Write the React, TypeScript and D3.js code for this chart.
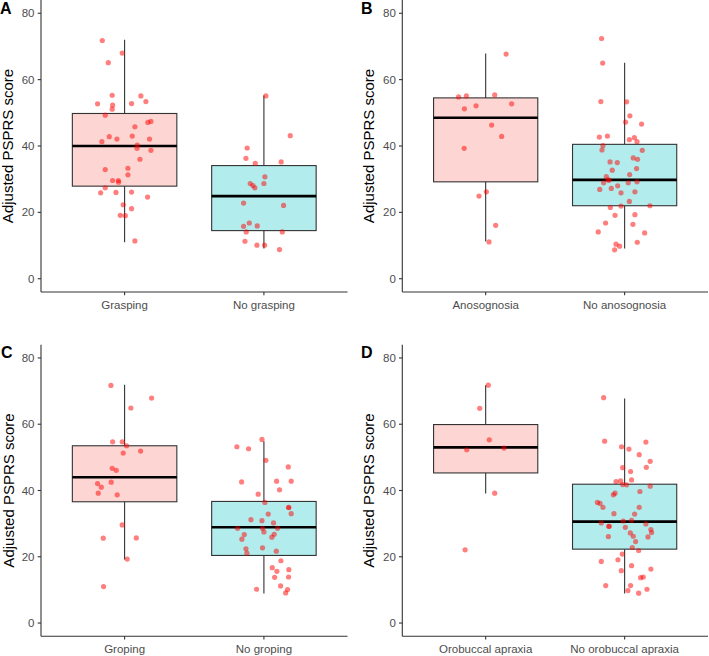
import * as d3 from 'd3';
import React from 'react';

// jittered points: [x offset in category units, adjusted PSPRS score]
const graspingPts: [number, number][] = [
  [-0.16, 71.8], [-0.017, 68.0], [-0.117, 65.1], [-0.194, 52.7], [-0.089, 55.3], [-0.086, 52.3],
  [-0.089, 51.1], [-0.139, 49.3], [0.05, 52.8], [0.117, 55.1], [0.153, 53.4], [0.167, 47.1],
  [0.189, 47.4], [0.074, 45.8], [-0.163, 41.3], [-0.11, 42.8], [-0.055, 42.1], [0.055, 43.0],
  [0.179, 42.1], [0.091, 40.3], [0.089, 39.3], [0.189, 38.7], [0.11, 36.0], [-0.139, 32.9],
  [0.024, 33.3], [0.024, 31.3], [-0.086, 29.6], [-0.045, 29.6], [-0.043, 29.1], [-0.172, 25.9],
  [-0.139, 27.4], [-0.062, 26.0], [0.05, 26.1], [0.165, 24.6], [-0.01, 22.3], [0.05, 21.1],
  [-0.031, 19.1], [0.005, 19.0], [0.074, 11.4],
];
const noGraspingPts: [number, number][] = [
  [0.014, 55.1], [0.189, 43.1], [-0.12, 39.4], [-0.129, 36.3], [-0.062, 34.8], [0.124, 35.2],
  [0.007, 30.7], [-0.098, 28.7], [-0.079, 28.1], [-0.065, 27.4], [0, 28.7], [-0.146, 22.8],
  [0.141, 22.1], [-0.105, 16.8], [-0.146, 15.8], [-0.048, 15.9], [-0.127, 14.1], [0.132, 14.1],
  [-0.136, 11.3], [-0.05, 10.1], [0.005, 10.1], [0.112, 8.8],
];
const anosognosiaPts: [number, number][] = [
  [0.147, 67.7], [-0.195, 54.8], [-0.139, 55.1], [0.065, 55.4], [-0.069, 52.1], [-0.153, 51.2],
  [0.187, 52.7], [0.043, 46.3], [0.115, 42.9], [-0.155, 39.3], [0.005, 26.2], [-0.048, 24.9],
  [0.072, 16.1], [0.024, 11.1],
];
const noAnosognosiaPts: [number, number][] = [
  [-0.166, 72.4], [-0.158, 65.0], [-0.171, 53.4], [0.014, 53.3], [0.038, 49.1], [0.007, 47.2],
  [0.122, 46.6], [-0.182, 42.7], [-0.124, 43.0], [0.034, 41.9], [0.07, 42.5], [0.089, 41.3],
  [-0.156, 40.1], [-0.163, 38.8], [0.127, 38.7], [0.062, 36.4], [0.093, 36.0], [-0.105, 35.2],
  [-0.053, 35.0], [-0.089, 32.7], [0.086, 33.2], [0.036, 31.4], [-0.132, 30.8], [-0.12, 29.8],
  [-0.112, 29.7], [-0.151, 28.9], [0.089, 29.2], [0.026, 28.9], [-0.05, 28.0], [-0.179, 26.9],
  [-0.096, 27.2], [-0.026, 25.9], [0.074, 26.2], [0.034, 23.3], [0.182, 22.0], [-0.103, 21.5],
  [-0.026, 21.9], [-0.069, 19.1], [0.074, 19.3], [-0.137, 16.8], [0.06, 16.4], [-0.19, 14.1],
  [0.144, 13.8], [-0.062, 10.4], [-0.036, 9.8], [0.091, 11.0], [-0.072, 8.7],
];
const gropingPts: [number, number][] = [
  [-0.098, 71.7], [0.194, 67.9], [0.045, 64.9], [-0.086, 54.7], [-0.017, 54.7], [0.014, 53.5],
  [-0.01, 51.3], [0.115, 51.9], [-0.089, 46.7], [-0.06, 46.1], [-0.096, 42.5], [-0.194, 42.1],
  [-0.167, 41.0], [-0.189, 39.2], [-0.053, 38.7], [-0.017, 29.6], [-0.153, 25.6], [0.084, 25.7],
  [0.019, 19.3], [-0.151, 11.0],
];
const noGropingPts: [number, number][] = [
  [-0.014, 55.4], [-0.194, 53.2], [-0.11, 52.6], [0.014, 49.1], [0.175, 47.1], [-0.16, 42.6],
  [0.091, 42.8], [0.196, 42.8], [0.112, 40.2], [-0.041, 38.9], [0.007, 36.4], [0.177, 34.9],
  [0.179, 34.8], [0.031, 32.9], [0.196, 33.0], [-0.093, 31.2], [-0.014, 30.9], [0.069, 30.2],
  [-0.189, 28.6], [-0.01, 28.6], [0.098, 28.6], [0, 27.5], [-0.141, 26.7], [0.074, 26.8],
  [0.057, 25.9], [-0.158, 25.3], [-0.01, 22.7], [-0.129, 22.4], [-0.122, 21.1], [0.089, 21.7],
  [0.122, 18.8], [0.06, 16.7], [0.093, 15.6], [0.179, 16.1], [0.077, 13.8], [0.177, 13.9],
  [0.12, 11.2], [-0.053, 10.2], [0.17, 10.1], [0.156, 9.1],
];
const orobuccalPts: [number, number][] = [
  [0.019, 71.8], [-0.043, 64.8], [0.026, 55.3], [-0.136, 52.3], [0.132, 52.8], [0.065, 39.2],
  [-0.148, 22.1],
];
const noOrobuccalPts: [number, number][] = [
  [-0.151, 68.0], [-0.144, 54.9], [-0.022, 53.2], [0.031, 52.5], [0.153, 54.6], [0.105, 50.8],
  [0.184, 48.8], [-0.014, 46.9], [0.156, 47.0], [0.043, 45.7], [-0.062, 42.7], [-0.029, 42.9],
  [-0.014, 41.8], [0.014, 41.7], [0.05, 43.2], [0.184, 41.3], [-0.069, 39.2], [-0.081, 38.7],
  [0.11, 39.7], [-0.196, 36.4], [-0.177, 36.1], [-0.156, 34.9], [0.105, 34.9], [-0.077, 33.0],
  [0.072, 32.9], [-0.01, 30.8], [0.05, 31.0], [-0.168, 30.2], [-0.115, 29.2], [-0.11, 29.2],
  [0.005, 28.9], [0.153, 29.9], [0.189, 28.2], [0.194, 27.3], [0.041, 27.2], [0.062, 26.2],
  [0.079, 24.6], [-0.117, 26.1], [0.168, 26.0], [0.055, 22.8], [0.101, 21.9], [-0.017, 20.8],
  [-0.168, 18.6], [-0.048, 19.1], [0.05, 17.3], [0.189, 16.3], [-0.024, 15.8], [0.115, 13.7],
  [0.134, 13.9], [-0.136, 11.3], [0.043, 11.3], [0.024, 9.8], [0.101, 9.0], [0.161, 10.2],
];

// box stats: [lower whisker, Q1, median, Q3, upper whisker]
const graspingBox = [11.0, 27.9, 40.0, 49.8, 72.0];
const noGraspingBox = [9.1, 14.5, 24.9, 34.1, 55.2];
const anosognosiaBox = [11.2, 29.2, 48.5, 54.5, 67.9];
const noAnosognosiaBox = [9.1, 22.0, 29.8, 40.5, 65.1];
const gropingBox = [19.2, 36.6, 44.0, 53.5, 71.9];
const noGropingBox = [8.9, 20.4, 28.9, 36.7, 54.9];
const orobuccalBox = [39.1, 45.3, 53.0, 59.9, 71.8];
const noOrobuccalBox = [8.9, 22.3, 30.6, 41.9, 67.8];

const panelLetters = ['A', 'B', 'C', 'D'];
const categories = [
  ['Grasping', 'No grasping'],
  ['Anosognosia', 'No anosognosia'],
  ['Groping', 'No groping'],
  ['Orobuccal apraxia', 'No orobuccal apraxia'],
];
const yTicks = [0, 20, 40, 60, 80];
const yTitle = 'Adjusted PSPRS score';
const groupColors = ['#F8766D', '#00BFC4'];

const FONT = '"Liberation Sans", Arial, sans-serif';

interface IPanelProps {
  letter: string;
  cats: string[];
  boxes: number[][];
  points: [number, number][][];
  left: number;
  right: number;
  top: number;
  bottom: number;
  originX: number;
  originY: number;
}

function Panel(props: IPanelProps) {
  const { letter, cats, boxes, points, left, right, top, bottom, originX, originY } = props;
  const x = d3.scaleLinear().domain([0.4, 2.6]).range([left, right]);
  const y = d3.scaleLinear().domain([-4, 84]).range([bottom, top]);
  const halfW = x(1.375) - x(1); // box width 0.75

  return (
    <g>
      <text x={originX} y={originY + 14} fontFamily={FONT} fontWeight="bold" fontSize={16} fill="#000">
        {letter}
      </text>
      <text
        transform={`translate(${originX + 13.4},${(y(0) + y(80)) / 2}) rotate(-90)`}
        textAnchor="middle"
        fontFamily={FONT}
        fontSize={15}
        fill="#000"
      >
        {yTitle}
      </text>

      {boxes.map((b, i) => {
        const cx = x(i + 1);
        return (
          <g key={'box' + i}>
            <line x1={cx} x2={cx} y1={y(b[3])} y2={y(b[4])} stroke="#333" strokeWidth={1.1} />
            <line x1={cx} x2={cx} y1={y(b[0])} y2={y(b[1])} stroke="#333" strokeWidth={1.1} />
            <rect
              x={cx - halfW}
              y={y(b[3])}
              width={halfW * 2}
              height={y(b[1]) - y(b[3])}
              fill={groupColors[i]}
              fillOpacity={0.3}
              stroke="#333"
              strokeWidth={1.1}
            />
            <line x1={cx - halfW} x2={cx + halfW} y1={y(b[2])} y2={y(b[2])} stroke="#000" strokeWidth={2.6} />
          </g>
        );
      })}

      {points.map((pts, i) =>
        pts.map((p, j) => (
          <circle key={`p${i}-${j}`} cx={x(i + 1 + p[0])} cy={y(p[1])} r={2.6} fill="red" fillOpacity={0.5} />
        ))
      )}

      {/* axes */}
      <line x1={left} x2={left} y1={top} y2={bottom} stroke="#333" strokeWidth={1.1} />
      <line x1={left} x2={right} y1={bottom} y2={bottom} stroke="#333" strokeWidth={1.1} />
      {yTicks.map((t) => (
        <g key={'yt' + t}>
          <line x1={left - 3.3} x2={left} y1={y(t)} y2={y(t)} stroke="#333" strokeWidth={1.1} />
          <text
            x={left - 6.5}
            y={y(t)}
            dy="0.35em"
            textAnchor="end"
            fontFamily={FONT}
            fontSize={11.5}
            fill="#4D4D4D"
          >
            {t}
          </text>
        </g>
      ))}
      {cats.map((c, i) => (
        <g key={'xt' + i}>
          <line x1={x(i + 1)} x2={x(i + 1)} y1={bottom} y2={bottom + 3.3} stroke="#333" strokeWidth={1.1} />
          <text
            x={x(i + 1)}
            y={bottom + 16.5}
            textAnchor="middle"
            fontFamily={FONT}
            fontSize={11.5}
            fill="#4D4D4D"
          >
            {c}
          </text>
        </g>
      ))}
    </g>
  );
}

export default function App() {
  const boxes = [
    [graspingBox, noGraspingBox],
    [anosognosiaBox, noAnosognosiaBox],
    [gropingBox, noGropingBox],
    [orobuccalBox, noOrobuccalBox],
  ];
  const points = [
    [graspingPts, noGraspingPts],
    [anosognosiaPts, noAnosognosiaPts],
    [gropingPts, noGropingPts],
    [orobuccalPts, noOrobuccalPts],
  ];
  const layout = [
    { left: 41, right: 347.5, top: 0, bottom: 292, originX: 0, originY: 0 },
    { left: 402.3, right: 708, top: 0, bottom: 292, originX: 361, originY: 0 },
    { left: 41, right: 347.5, top: 344.7, bottom: 636.3, originX: 1, originY: 344 },
    { left: 402.3, right: 708, top: 344.7, bottom: 636.3, originX: 361, originY: 344 },
  ];

  return (
    <svg
      width={709}
      height={656}
      style={{ position: 'absolute', left: 0, top: 0, background: '#fff' }}
    >
      <rect width={709} height={656} fill="#fff" />
      {panelLetters.map((l, i) => (
        <Panel
          key={l}
          letter={l}
          cats={categories[i]}
          boxes={boxes[i]}
          points={points[i]}
          {...layout[i]}
        />
      ))}
    </svg>
  );
}
